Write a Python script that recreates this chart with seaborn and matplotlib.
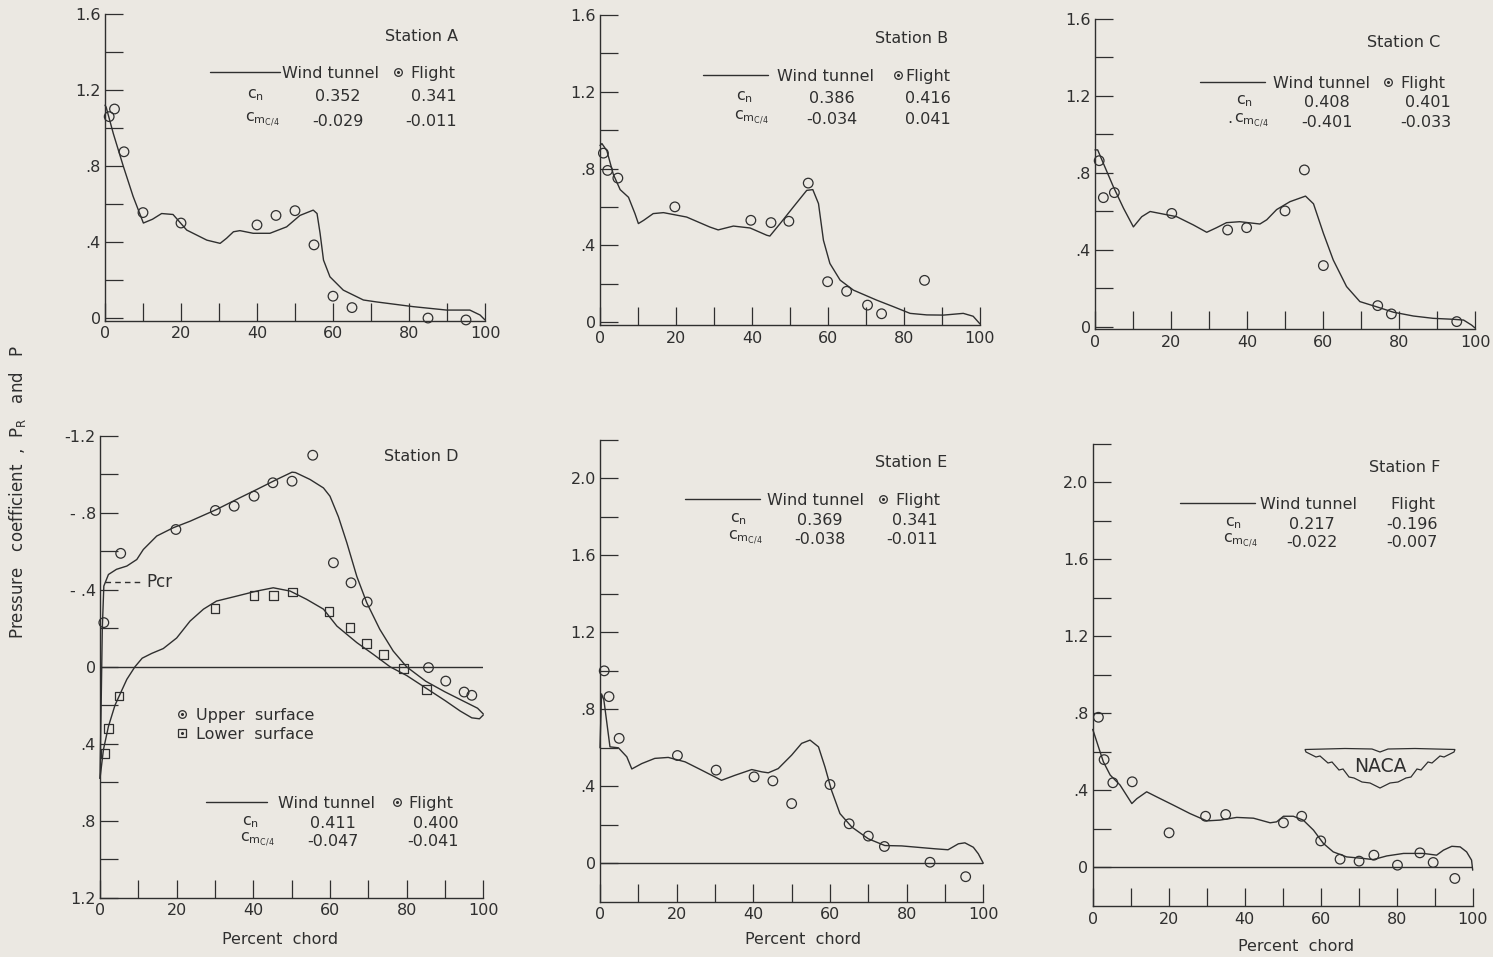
import matplotlib
matplotlib.use("Agg")
import matplotlib.pyplot as plt
import seaborn as sns
from matplotlib.lines import Line2D
from matplotlib.patches import Polygon

# ---------------------------------------------------------------- data
stations = ["A", "B", "C", "D", "E", "F"]
cn_tunnel = [0.352, 0.386, 0.408, 0.411, 0.369, 0.217]
cn_flight = [0.341, 0.416, 0.401, 0.400, 0.341, -0.196]
cm_tunnel = [-0.029, -0.034, -0.401, -0.047, -0.038, -0.022]
cm_flight = [-0.011, 0.041, -0.033, -0.041, -0.011, -0.007]

# Station A
a_tunnel_x = [0, 0.3, 2.2, 4.8, 7.4, 10.1, 12.5, 14.9, 17.9, 21.5, 26.8, 30.3, 32, 33.8, 35.5,
              39, 43.4, 47.8, 51.3, 54.8, 55.8, 56.6, 57.5, 59.2, 62.7, 68, 71.4, 81.1, 89.9,
              96, 98.7, 100]
a_tunnel_p = [1.12, 1.11, 0.97, 0.80, 0.64, 0.50, 0.52, 0.55, 0.545, 0.463, 0.41, 0.393, 0.42,
              0.454, 0.46, 0.446, 0.446, 0.48, 0.54, 0.568, 0.55, 0.446, 0.305, 0.217, 0.147,
              0.095, 0.085, 0.06, 0.042, 0.042, 0.016, -0.01]
a_flight_x = [1.1, 2.5, 5, 10, 20, 40, 45, 50, 55, 60, 65, 85, 95]
a_flight_p = [1.06, 1.10, 0.875, 0.555, 0.50, 0.49, 0.54, 0.565, 0.385, 0.115, 0.055, 0.0, -0.01]

# Station B
b_tunnel_x = [0, 0.5, 1.8, 3.5, 5.3, 7.5, 9.2, 10.1, 11.5, 14, 16.7, 22.8, 28.9, 31.1, 35.1,
              39.5, 43.9, 44.7, 47.4, 50.9, 54.4, 56, 57.5, 58.8, 60.5, 63.2, 66.7, 72.8, 77.2,
              81.6, 86, 90.4, 95.6, 98.2, 100]
b_tunnel_p = [0.92, 0.93, 0.893, 0.77, 0.69, 0.65, 0.565, 0.513, 0.53, 0.565, 0.57, 0.547,
              0.495, 0.48, 0.50, 0.49, 0.452, 0.448, 0.513, 0.60, 0.686, 0.69, 0.617, 0.426,
              0.305, 0.218, 0.166, 0.114, 0.08, 0.045, 0.037, 0.036, 0.045, 0.03, -0.01]
b_flight_x = [0.9, 2.0, 4.7, 19.7, 39.7, 45, 49.7, 54.8, 59.9, 64.9, 70.4, 74.1, 85.4]
b_flight_p = [0.88, 0.79, 0.75, 0.60, 0.53, 0.518, 0.525, 0.724, 0.21, 0.16, 0.088, 0.043, 0.217]

# Station C
c_tunnel_x = [0, 0.7, 2.2, 4.8, 7.5, 10.1, 12.3, 14.5, 17.1, 21.5, 25.9, 29.4, 32, 34.6, 38.1,
              43.4, 45.2, 47.8, 51.3, 55.4, 57.5, 60.1, 62.7, 66.2, 69.7, 74.1, 78.5, 83.8, 89,
              94.3, 97, 99.1, 100]
c_tunnel_p = [0.92, 0.92, 0.85, 0.73, 0.617, 0.52, 0.573, 0.60, 0.59, 0.573, 0.53, 0.492,
              0.516, 0.542, 0.547, 0.535, 0.557, 0.61, 0.651, 0.68, 0.64, 0.487, 0.348, 0.21,
              0.132, 0.105, 0.077, 0.057, 0.045, 0.04, 0.036, 0.01, -0.005]
c_flight_x = [1.1, 2.2, 5.1, 20.2, 34.9, 39.9, 50, 55.1, 60.1, 74.4, 78, 95.2]
c_flight_p = [0.864, 0.672, 0.698, 0.59, 0.504, 0.516, 0.603, 0.816, 0.319, 0.111, 0.068, 0.028]

# Station D (upper and lower surfaces)
d_upper_x = [0, 0.3, 0.6, 1.0, 2.2, 4.3, 7, 9.6, 11.3, 14.8, 19.1, 23.5, 30.4, 36.5, 40.9,
             46.1, 50.1, 51, 54.8, 58.3, 60, 62.2, 64.4, 67, 69.6, 73, 76.5, 80, 85, 90, 95,
             98.5, 100]
d_upper_p = [0.58, 0.2, -0.2, -0.42, -0.48, -0.507, -0.524, -0.558, -0.61, -0.68, -0.723,
             -0.757, -0.818, -0.879, -0.922, -0.974, -1.012, -1.01, -0.974, -0.93, -0.887,
             -0.78, -0.645, -0.47, -0.333, -0.195, -0.082, 0.0, 0.075, 0.13, 0.18, 0.215, 0.245]
d_lower_x = [0, 0.9, 2.2, 3.9, 5.2, 7, 9.1, 11, 13.5, 16.5, 20, 23.5, 27, 30.4, 35.7, 40.9,
             45.2, 49.6, 53.9, 58.3, 61.8, 67, 71.3, 75.7, 80, 85, 90, 94, 97, 99, 100]
d_lower_p = [0.58, 0.43, 0.31, 0.2, 0.143, 0.065, 0.0, -0.045, -0.07, -0.095, -0.15, -0.238,
             -0.3, -0.342, -0.368, -0.394, -0.411, -0.394, -0.351, -0.3, -0.212, -0.126,
             -0.065, 0.0, 0.045, 0.11, 0.175, 0.23, 0.265, 0.27, 0.25]
d_flight_upper_x = [1.0, 5.4, 19.8, 30.1, 35, 40.2, 45.1, 50.1, 55.5, 60.9, 65.5, 69.7, 85.7,
                    90.2, 95, 97]
d_flight_upper_p = [-0.23, -0.59, -0.714, -0.813, -0.835, -0.887, -0.957, -0.965, -1.10,
                    -0.541, -0.437, -0.337, 0.004, 0.074, 0.131, 0.148]
d_flight_lower_x = [1.3, 2.2, 5, 30, 40.2, 45.3, 50.2, 59.8, 65.2, 69.6, 73.9, 79.2, 85.2]
d_flight_lower_p = [0.45, 0.32, 0.152, -0.302, -0.371, -0.371, -0.39, -0.287, -0.204, -0.122,
                    -0.065, 0.01, 0.117]
d_pcr = -0.44

# Station E
e_tunnel_x = [0, 0.4, 1.0, 2.6, 4.8, 7, 8.3, 10.9, 14.3, 17.8, 22.2, 26.5, 31.7, 35.2, 39.6,
              42.2, 43.9, 46.5, 50, 52.6, 54.8, 57, 58.7, 60.4, 62.6, 65.7, 70, 74.3, 78.7,
              87.4, 90.8, 93.5, 95.2, 97.4, 98.7, 100]
e_tunnel_p = [0.6, 0.88, 0.85, 0.605, 0.6, 0.553, 0.49, 0.518, 0.545, 0.55, 0.527, 0.484,
              0.431, 0.457, 0.487, 0.475, 0.47, 0.492, 0.562, 0.623, 0.64, 0.605, 0.5, 0.379,
              0.258, 0.188, 0.127, 0.092, 0.09, 0.075, 0.07, 0.101, 0.106, 0.083, 0.049, 0.0]
e_flight_x = [1.1, 2.35, 5.0, 20.2, 30.3, 40.2, 45.1, 50, 60, 65, 70, 74.2, 86.1, 95.4]
e_flight_p = [1.0, 0.866, 0.649, 0.56, 0.484, 0.449, 0.428, 0.31, 0.409, 0.205, 0.141, 0.087,
              0.005, -0.07]

# Station F
f_tunnel_x = [0, 0.3, 1.5, 2.8, 4.6, 7.2, 10.3, 11.6, 14.2, 16.8, 21.2, 25.6, 30, 33.5, 37.9,
              42.3, 46.7, 48.4, 50.2, 52.8, 55.4, 58.1, 60.7, 63.3, 66.8, 71.2, 73.8, 77.4,
              81.8, 87, 90.5, 92.3, 94.5, 96.7, 98.4, 99.7, 100]
f_tunnel_p = [0.717, 0.70, 0.627, 0.549, 0.48, 0.428, 0.332, 0.357, 0.393, 0.367, 0.324, 0.28,
              0.242, 0.246, 0.26, 0.256, 0.232, 0.237, 0.266, 0.266, 0.246, 0.194, 0.125,
              0.081, 0.055, 0.047, 0.041, 0.06, 0.073, 0.073, 0.064, 0.09, 0.11, 0.107, 0.081,
              0.038, -0.014]
f_flight_x = [1.5, 3.0, 5.3, 10.4, 20.1, 29.7, 35, 50.2, 55, 60, 65.1, 70.1, 74, 80.2, 86.1,
              89.6, 95.3]
f_flight_p = [0.78, 0.56, 0.44, 0.445, 0.18, 0.266, 0.275, 0.232, 0.266, 0.138, 0.043, 0.033,
              0.064, 0.012, 0.076, 0.026, -0.057]

chord_ticks = [0, 10, 20, 30, 40, 50, 60, 70, 80, 90, 100]
chord_labels = ["0", "", "20", "", "40", "", "60", "", "80", "", "100"]

# ---------------------------------------------------------------- style
W, H = 1493, 957
PAPER = "#ebe8e2"
INK = "#2f2f2f"

sns.set_theme(style="ticks")
plt.rcParams["font.family"] = ["DejaVu Sans"]
plt.rcParams.update({
    "figure.facecolor": PAPER,
    "axes.facecolor": "none",
    "axes.edgecolor": INK,
    "text.color": INK,
    "xtick.color": INK,
    "ytick.color": INK,
    "axes.linewidth": 1.0,
})

fig = plt.figure(figsize=(W / 100, H / 100), dpi=100)


def fxy(px, py):
    return px / W, 1 - py / H


def put(px, py, s, ha="left", va="baseline", size=11.5, **kw):
    x, y = fxy(px, py)
    fig.text(x, y, s, ha=ha, va=va, fontsize=size, color=INK, **kw)


def make_axes(box, ylim, yticks, ylabels):
    left, right, top, bottom = box
    ax = fig.add_axes([left / W, 1 - bottom / H, (right - left) / W, (bottom - top) / H])
    ax.set_xlim(0, 100)
    ax.set_ylim(*ylim)
    sns.despine(ax=ax)
    ax.set_xticks(chord_ticks)
    ax.set_xticklabels(chord_labels)
    ax.set_yticks(yticks)
    ax.set_yticklabels(ylabels)
    ax.tick_params(axis="both", direction="in", length=13, width=0.9, labelsize=11.5)
    ax.tick_params(axis="y", pad=3)
    ax.tick_params(axis="x", pad=4)
    return ax


def curve(ax, x, y):
    sns.lineplot(x=x, y=y, ax=ax, sort=False, estimator=None, color=INK, lw=1.0,
                 legend=False, clip_on=False)


def points(ax, x, y, marker="o", s=48):
    sns.scatterplot(x=x, y=y, ax=ax, marker=marker, s=s, facecolor="none",
                    edgecolor=INK, linewidth=0.9, legend=False, zorder=3, clip_on=False)


def finish(ax):
    ax.set_xlabel("")
    ax.set_ylabel("")


top_ticks = [0, 0.2, 0.4, 0.6, 0.8, 1.0, 1.2, 1.4, 1.6]
top_labels = ["0", "", ".4", "", ".8", "", "1.2", "", "1.6"]
low_ticks = [0, 0.2, 0.4, 0.6, 0.8, 1.0, 1.2, 1.4, 1.6, 1.8, 2.0, 2.2]
low_labels = ["0", "", ".4", "", ".8", "", "1.2", "", "1.6", "", "2.0", ""]
d_ticks = [-1.2, -1.0, -0.8, -0.6, -0.4, -0.2, 0, 0.2, 0.4, 0.6, 0.8, 1.0, 1.2]
d_labels = ["-1.2", "", "- .8", "", "- .4", "", "0", "", ".4", "", ".8", "", "1.2"]

# ---------------------------------------------------------------- panels
axA = make_axes((105, 485, 14, 320.9), (-0.015, 1.6), top_ticks, top_labels)
curve(axA, a_tunnel_x, a_tunnel_p)
points(axA, a_flight_x, a_flight_p)
finish(axA)

axB = make_axes((600, 980, 15, 325), (-0.0156, 1.6), top_ticks, top_labels)
curve(axB, b_tunnel_x, b_tunnel_p)
points(axB, b_flight_x, b_flight_p)
finish(axB)

axC = make_axes((1095, 1475, 19, 329), (-0.0104, 1.6), top_ticks, top_labels)
curve(axC, c_tunnel_x, c_tunnel_p)
points(axC, c_flight_x, c_flight_p)
finish(axC)

axD = make_axes((100, 483.3, 436, 897.7), (1.2, -1.2), d_ticks, d_labels)
axD.axhline(0, color=INK, lw=1.0)
curve(axD, d_upper_x, d_upper_p)
curve(axD, d_lower_x, d_lower_p)
points(axD, d_flight_upper_x, d_flight_upper_p)
points(axD, d_flight_lower_x, d_flight_lower_p, marker="s", s=38)
axD.plot([1.3, 10.4], [d_pcr, d_pcr], color=INK, lw=1.0, ls=(0, (4, 3)))
axD.text(12.0, d_pcr, "Pcr", fontsize=12, color=INK, va="center", ha="left")
finish(axD)

axE = make_axes((600, 983.3, 440, 901.7), (-0.2, 2.2), low_ticks, low_labels)
axE.axhline(0, color=INK, lw=1.0)
curve(axE, e_tunnel_x, e_tunnel_p)
points(axE, e_flight_x, e_flight_p)
finish(axE)

axF = make_axes((1092.7, 1472.7, 443.8, 906), (-0.2, 2.2), low_ticks, low_labels)
axF.axhline(0, color=INK, lw=1.0)
curve(axF, f_tunnel_x, f_tunnel_p)
points(axF, f_flight_x, f_flight_p)
finish(axF)

# ---------------------------------------------------------------- key blocks
notes = {
    "A": dict(st=(458, 41), leg_y=72, line=(210, 280), wt=282, dot=398, fl=410, lab=247,
              cn_y=101, cm_y=126, c1=338, c2=457, pre=None),
    "B": dict(st=(948, 43), leg_y=75, line=(703, 768), wt=777, dot=898, fl=905, lab=736,
              cn_y=103, cm_y=124, c1=832, c2=951, pre=None),
    "C": dict(st=(1440, 47), leg_y=82, line=(1200, 1265), wt=1273, dot=1388, fl=1400,
              lab=1236, cn_y=107, cm_y=127, c1=1327, c2=1451, pre=1227),
    "D": dict(st=(458, 461), leg_y=802, line=(206, 267), wt=278, dot=397, fl=408, lab=242,
              cn_y=828, cm_y=846, c1=333, c2=459, pre=None),
    "E": dict(st=(947, 467), leg_y=499, line=(685, 760), wt=767, dot=883, fl=895, lab=730,
              cn_y=525, cm_y=544, c1=820, c2=938, pre=None),
    "F": dict(st=(1440, 472), leg_y=503, line=(1180, 1255), wt=1260, dot=None, fl=1390,
              lab=1225, cn_y=529, cm_y=547, c1=1312, c2=1438, pre=None),
}

for i, name in enumerate(stations):
    n = notes[name]
    put(n["st"][0], n["st"][1], f"Station {name}", ha="right")
    x0, y0 = fxy(n["line"][0], n["leg_y"])
    x1, _ = fxy(n["line"][1], n["leg_y"])
    fig.add_artist(Line2D([x0, x1], [y0, y0], color=INK, lw=1.0, transform=fig.transFigure))
    put(n["wt"], n["leg_y"], "Wind tunnel", va="center_baseline")
    if n["dot"] is not None:
        dx, dy = fxy(n["dot"], n["leg_y"])
        fig.add_artist(Line2D([dx], [dy], marker="o", ms=5.5, mfc="none", mec=INK, mew=0.9,
                              transform=fig.transFigure))
        fig.add_artist(Line2D([dx], [dy], marker="o", ms=1.2, mfc=INK, mec=INK,
                              transform=fig.transFigure))
    put(n["fl"], n["leg_y"], "Flight", va="center_baseline")
    put(n["lab"], n["cn_y"] - 3, r"$\mathregular{c_n}$")
    put(n["lab"] - 2, n["cm_y"] - 4, r"$\mathregular{c_{m_{C/4}}}$")
    if n["pre"] is not None:
        put(n["pre"], n["cm_y"] - 4, ".")
    put(n["c1"], n["cn_y"], f"{cn_tunnel[i]:.3f}", ha="center")
    put(n["c2"], n["cn_y"], f"{cn_flight[i]:.3f}", ha="right")
    put(n["c1"], n["cm_y"], f"{cm_tunnel[i]:.3f}", ha="center")
    put(n["c2"], n["cm_y"], f"{cm_flight[i]:.3f}", ha="right")

# surface key in station D
for py, mk, label in [(714, "o", "Upper  surface"), (733, "s", "Lower  surface")]:
    mx, my = fxy(182, py)
    fig.add_artist(Line2D([mx], [my], marker=mk, ms=5.5, mfc="none", mec=INK, mew=0.9,
                          transform=fig.transFigure))
    fig.add_artist(Line2D([mx], [my], marker="o", ms=1.2, mfc=INK, mec=INK,
                          transform=fig.transFigure))
    put(196, py, label, va="center_baseline")

# axis titles
for cx, cy in [(280, 938), (803, 938), (1296, 945)]:
    put(cx, cy, "Percent  chord", ha="center", va="center_baseline")
put(18, 492, r"Pressure   coefficient  ,  P$_\mathregular{R}$   and   P", ha="center",
    va="center", rotation=90, size=12)

# ---------------------------------------------------------------- NACA wings
cx0 = 1380
half = [(1380, 752), (1372, 749), (1345, 748.5), (1305, 749.5), (1306, 752), (1316, 757),
        (1320, 756), (1328, 763), (1332, 762), (1339, 770), (1343, 769), (1349, 777),
        (1354, 778), (1362, 782), (1370, 783), (1380, 788)]
outline = half + [(2 * cx0 - x, y) for x, y in reversed(half)]
fig.add_artist(Polygon([fxy(x, y) for x, y in outline], closed=True, facecolor=PAPER,
                       edgecolor=INK, lw=0.9, transform=fig.transFigure, zorder=1))
x_n, y_n = fxy(cx0, 767)
fig.text(x_n, y_n, "NACA", ha="center", va="center", fontsize=13.5, color=INK, zorder=5)

fig.savefig("out.png", dpi=100, facecolor=PAPER)
